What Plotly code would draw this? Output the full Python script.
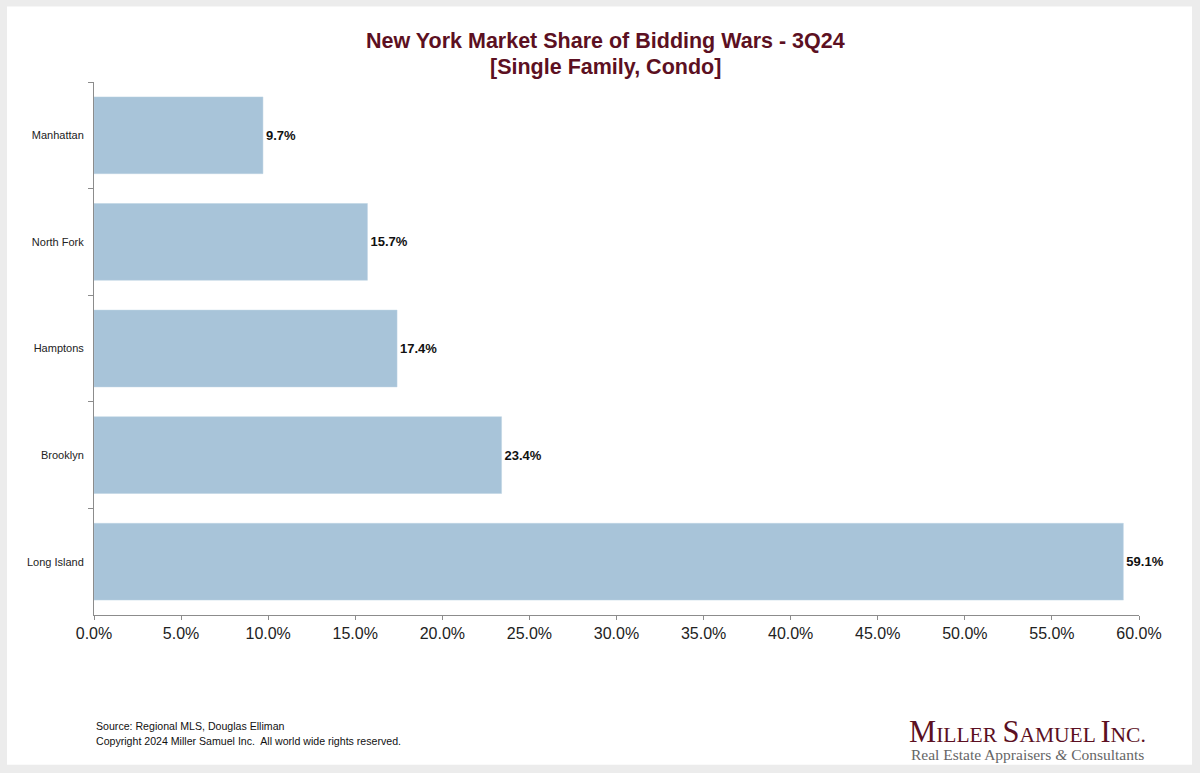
import plotly.graph_objects as go

regions = ["Manhattan", "North Fork", "Hamptons", "Brooklyn", "Long Island"]
share = [0.097, 0.157, 0.174, 0.234, 0.591]
share_labels = ["9.7%", "15.7%", "17.4%", "23.4%", "59.1%"]
x_ticks = [0.0, 0.05, 0.10, 0.15, 0.20, 0.25, 0.30, 0.35, 0.40, 0.45, 0.50, 0.55, 0.60]

W, H = 1200, 773
L, R, T, B = 94, 61, 81.5, 158
PW = W - L - R
PH = H - T - B


def px(p):
    return (p - L) / PW


def py(p):
    return (H - B - p) / PH


fig = go.Figure()
fig.add_trace(go.Bar(
    y=regions,
    x=share,
    orientation="h",
    marker=dict(color="#a8c4d9", line=dict(color="#bcd2e2", width=0.5)),
    width=0.72,
    text=[f"<b>{t}</b>" for t in share_labels],
    textposition="outside",
    textfont=dict(family="Liberation Sans, Arial", size=13, color="#111111"),
    cliponaxis=False,
    hoverinfo="skip",
))

fig.update_layout(
    width=W, height=H,
    margin=dict(l=L, r=R, t=T, b=B, pad=0),
    paper_bgcolor="#ececec",
    plot_bgcolor="rgba(0,0,0,0)",
    showlegend=False,
    font=dict(family="Liberation Sans, Arial", color="#222222"),
    xaxis=dict(
        range=[0, 0.6],
        tickvals=x_ticks,
        tickformat=".1%",
        showgrid=False,
        zeroline=False,
        showline=True,
        linecolor="#8c8c8c",
        linewidth=1,
        ticks="outside",
        ticklen=4,
        tickcolor="#8c8c8c",
        tickfont=dict(size=16, color="#222222"),
        fixedrange=True,
    ),
    yaxis=dict(
        categoryorder="array",
        categoryarray=regions,
        autorange="reversed",
        showgrid=False,
        zeroline=False,
        showline=True,
        linecolor="#8c8c8c",
        linewidth=1,
        ticks="outside",
        tickson="boundaries",
        ticklen=5,
        tickcolor="#8c8c8c",
        tickfont=dict(size=11, color="#222222"),
        ticklabelstandoff=7,
        fixedrange=True,
    ),
    shapes=[dict(
        type="rect", xref="paper", yref="paper", layer="below",
        x0=px(7), x1=px(1192), y0=py(765), y1=py(6),
        fillcolor="#ffffff", line=dict(width=0),
    )],
)

annotations = [
    dict(text="<b>New York Market Share of Bidding Wars - 3Q24</b>",
         x=px(605), y=py(40), font=dict(size=21.5, color="#5c1022")),
    dict(text="<b>[Single Family, Condo]</b>",
         x=px(605), y=py(66), font=dict(size=21.5, color="#5c1022")),
    dict(text="Source: Regional MLS, Douglas Elliman",
         x=px(94), y=py(726), xanchor="left", font=dict(size=10.6, color="#111111")),
    dict(text="Copyright 2024 Miller Samuel Inc.  All world wide rights reserved.",
         x=px(94), y=py(741), xanchor="left", font=dict(size=10.6, color="#111111")),
    dict(text=("<span style='font-size:30.5px'>M</span>ILLER "
               "<span style='font-size:30.5px'>S</span>AMUEL "
               "<span style='font-size:30.5px'>I</span>NC."),
         x=px(1148), y=py(732), xanchor="right",
         font=dict(family="Liberation Serif, Times New Roman", size=21.5, color="#5c1022")),
    dict(text="Real Estate Appraisers <i>&amp;</i> Consultants",
         x=px(1146), y=py(755), xanchor="right",
         font=dict(family="Liberation Serif, Times New Roman", size=15.5, color="#666666")),
]
for a in annotations:
    a.setdefault("xanchor", "center")
    a.update(xref="paper", yref="paper", yanchor="middle", showarrow=False)
fig.update_layout(annotations=annotations)

fig.write_html(
    "out.html",
    config={"displayModeBar": False},
    post_script="document.body.style.margin='0';document.body.style.overflow='hidden';",
)
